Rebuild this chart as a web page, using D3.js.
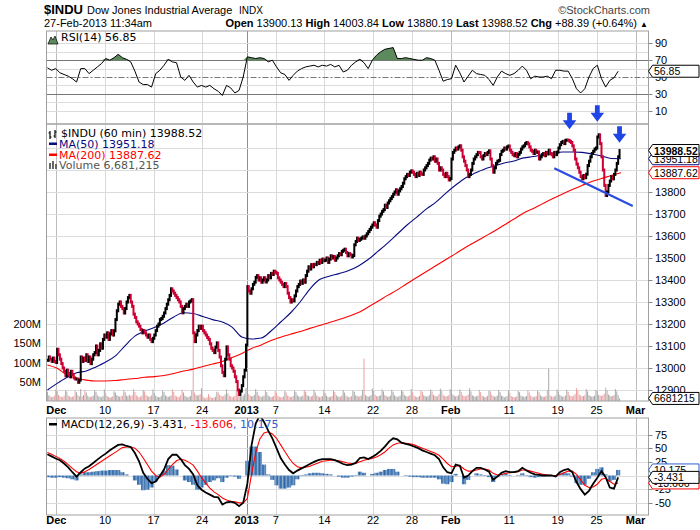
<!DOCTYPE html>
<html>
<head>
<meta charset="utf-8">
<script src="https://cdn.jsdelivr.net/npm/d3@7"></script>
<style>
  body { margin: 0; background: #fff; }
  text { font-family: "Liberation Sans", Arial, sans-serif; font-size: 11px; }
  .lg { font-family: "DejaVu Sans", Verdana, sans-serif; font-size: 11px; }
  .tg { font-size: 10.5px; }
</style>
</head>
<body>
<div id="chart"></div>
<script>
// hourly closes, Nov 30 2012 .. Feb 27 2013, one row per trading day (Dec 24 half day, Feb 27 partial)
const closes = [
  13035, 13050, 13040, 13030, 13045, 13030, 13025,
  13085, 13060, 13040, 13020, 13000, 12985, 12965,
  12990, 12975, 12960, 12985, 12970, 12955, 12950,
  12950, 12935, 12945, 13050, 13030, 13045, 13035,
  13060, 13030, 13050, 13020, 13040, 13060, 13070,
  13100, 13060, 13080, 13110, 13090, 13130, 13150,
  13140, 13160, 13130, 13155, 13170, 13150, 13169,
  13220, 13260, 13290, 13300, 13280, 13270, 13250,
  13270, 13300, 13320, 13330, 13300, 13280, 13245,
  13230, 13210, 13200, 13190, 13175, 13160, 13170,
  13160, 13150, 13140, 13150, 13130, 13120, 13135,
  13150, 13170, 13190, 13200, 13220, 13225, 13235,
  13250, 13270, 13290, 13310, 13330, 13360, 13350,
  13340, 13330, 13320, 13310, 13300, 13280, 13251,
  13270, 13280, 13290, 13280, 13300, 13305, 13311,
  13160, 13120, 13150, 13170, 13190, 13180, 13190,
  13170, 13160, 13150, 13139,
  13130, 13110, 13090, 13080, 13070, 13095, 13114,
  13080, 13050, 13010, 12980, 12965, 13040, 13096,
  13060, 13040, 13010, 13000, 12985, 12960, 12938,
  12900, 12880, 12895, 12920, 12960, 12990, 13104,
  13370, 13350, 13340, 13360, 13380, 13390, 13412,
  13420, 13400, 13410, 13390, 13400, 13410, 13391,
  13400, 13420, 13410, 13430, 13425, 13440, 13435,
  13430, 13410, 13400, 13390, 13380, 13370, 13384,
  13370, 13340, 13320, 13300, 13310, 13305, 13328,
  13350, 13370, 13380, 13395, 13385, 13400, 13390,
  13420, 13440, 13460, 13450, 13470, 13460, 13471,
  13470, 13480, 13475, 13490, 13480, 13495, 13488,
  13490, 13500, 13480, 13495, 13510, 13500, 13507,
  13490, 13500, 13510, 13520, 13515, 13530, 13535,
  13540, 13525, 13510, 13520, 13515, 13505, 13511,
  13560, 13575, 13590, 13580, 13585, 13590, 13596,
  13590, 13600, 13610, 13620, 13630, 13640, 13650,
  13660, 13650, 13640, 13670, 13690, 13700, 13712,
  13720, 13740, 13730, 13750, 13760, 13770, 13779,
  13790, 13800, 13810, 13790, 13805, 13815, 13825,
  13840, 13860, 13870, 13880, 13875, 13890, 13896,
  13890, 13880, 13870, 13885, 13875, 13890, 13882,
  13880, 13900, 13910, 13920, 13930, 13945, 13954,
  13950, 13960, 13940, 13950, 13930, 13900, 13910,
  13900, 13880, 13870, 13885, 13870, 13855, 13861,
  13950, 13980, 13990, 14000, 13995, 14005, 14010,
  13990, 13960, 13940, 13920, 13900, 13870, 13880,
  13900, 13930, 13950, 13960, 13970, 13980, 13979,
  13960, 13950, 13965, 13975, 13970, 13980, 13987,
  13950, 13920, 13890, 13910, 13930, 13940, 13944,
  13970, 13985, 13990, 14000, 13995, 14005, 14009,
  13990, 13980, 13970, 13965, 13975, 13960, 13971,
  13980, 13995, 14005, 14010, 14020, 14025, 14019,
  14005, 13990, 13985, 13975, 13990, 13980, 13982,
  13950, 13960, 13970, 13975, 13965, 13980, 13973,
  13990, 13975, 13970, 13960, 13980, 13970, 13981,
  14000, 14015, 14025, 14030, 14020, 14035, 14036,
  14035, 14030, 14025, 14010, 13990, 13950, 13927,
  13910, 13890, 13870, 13860, 13875, 13865, 13881,
  13920, 13940, 13960, 13975, 13985, 13995, 14000,
  14050, 14060, 14020, 13960, 13900, 13830, 13784,
  13800, 13830, 13850, 13870, 13860, 13880, 13900,
  13930, 13960, 13988.52
];

// hourly volume, millions
const volumes = [
  24,15,12,10,11,14,30,  26,16,13,11,10,14,28,  25,14,12,10,11,13,27,  23,15,12,31,12,15,29,
  22,14,11,10,12,14,28,  24,15,12,11,10,13,30,  20,13,10,9,10,12,25,   22,15,13,11,12,14,29,
  23,14,12,16,13,15,31,  24,15,12,10,11,14,28,  25,16,13,11,12,15,30,  21,14,11,10,10,13,27,
  23,15,12,11,12,14,30,  24,14,12,10,11,15,29,  22,14,11,10,11,13,28,  200,22,16,14,15,18,33,
  12,8,7,10,
  18,12,9,8,9,11,24,     22,16,14,12,13,17,30,  20,14,12,10,11,14,26,  24,16,13,12,14,18,34,
  30,18,14,12,13,16,31,  24,15,12,11,12,14,28,  23,14,12,10,11,13,27,  21,13,11,10,10,12,26,
  22,14,12,10,11,13,27,  23,15,12,11,12,14,28,  24,15,13,11,12,14,29,  22,14,12,10,11,13,30,
  21,14,11,10,11,13,27,  23,15,12,11,11,14,28,  22,14,12,10,11,13,27,  24,15,13,11,12,14,29,
  110,16,13,11,12,15,32, 26,16,13,12,13,15,30,  25,15,13,11,12,14,29,  24,15,12,11,12,14,28,
  25,16,13,12,12,15,31,  23,14,12,10,11,13,28,  24,15,13,11,12,15,30,  25,16,14,12,13,18,32,
  26,16,13,12,13,15,31,  28,17,14,12,13,15,30,  24,15,13,12,14,17,33,  25,15,13,11,12,14,29,
  23,14,12,10,11,13,27,  25,16,13,11,12,14,29,  23,14,12,10,11,13,28,  21,13,11,10,10,12,26,
  23,14,12,11,11,13,28,  22,14,12,10,11,13,27,  23,15,12,11,11,13,28,  84,15,12,11,12,14,30,
  25,16,13,11,12,14,29,  24,15,13,12,14,18,33,  27,17,14,12,13,15,31,  25,15,13,11,12,14,29,
  26,16,14,13,15,19,35,  28,17,14,12,13,15,31,  25,15,6.68
];

// indicators, one value every 3 bars
const indStep = 3;
const rsiValues = [
  61, 58, 60, 55, 53, 51, 48, 44, 60, 60,
  54, 58, 62, 66, 72, 70, 73, 77, 73, 71,
  68, 57, 44, 41, 41, 38, 54, 58, 64, 71,
  68, 67, 50, 46, 52, 44, 38, 40, 38, 40,
  36, 33, 28, 40, 37, 31, 34, 50, 74, 73,
  72, 73, 72, 68, 70, 62, 55, 53, 46, 52,
  57, 60, 62, 63, 64, 62, 64, 63, 65, 62,
  64, 56, 58, 64, 68, 71, 67, 60, 70, 76,
  80, 83, 84, 85, 72, 72, 73, 72, 71, 70,
  70, 73, 72, 70, 58, 45, 47, 48, 64, 55,
  44, 51, 58, 54, 53, 52, 47, 40, 50, 57,
  54, 52, 54, 58, 63, 58, 48, 51, 50, 50,
  51, 48, 58, 58, 57, 57, 48, 36, 31, 36,
  50, 60, 64, 48, 38, 46, 49, 56.85
];
const macdValues = [
  39, 35, 31, 28, 22, 15, 6, -2, 6, 13,
  17, 23, 29, 35, 40, 46, 51, 56, 57, 54,
  52, 41, 26, 5, -6, -14, -11, -1, 11, 30,
  38, 38, 30, 19, 12, 2, -18, -26, -31, -35,
  -39, -40, -53, -49, -48, -50, -56, -50, -15, 55,
  95, 110, 98, 82, 68, 50, 32, 20, 10, 4,
  9, 13, 17, 21, 25, 28, 30, 30, 30, 28,
  25, 21, 19, 20, 23, 32, 33, 30, 34, 39,
  45, 53, 62, 68, 66, 60, 58, 56, 53, 50,
  46, 43, 40, 37, 30, 15, 6, 4, 20, 18,
  -4, 0, 8, 14, 14, 11, 7, -8, -2, 5,
  8, 6, 6, 8, 14, 9, 5, 2, 1, 0,
  0, 0, -2, 6, 10, 12, 6, -12, -25, -35,
  -28, -15, -4, 8, -3, -22, -24, -3.431
];
const signalValues = [
  42, 39, 35, 31, 26, 20, 13, 7, 4, 7,
  11, 16, 21, 26, 31, 36, 41, 46, 51, 52,
  52, 50, 43, 32, 20, 8, 0, -3, 2, 11,
  20, 27, 30, 28, 24, 19, 8, -4, -14, -23,
  -30, -35, -41, -45, -47, -48, -50, -50, -42, 2,
  42, 67, 78, 80, 76, 68, 56, 44, 32, 22,
  16, 14, 15, 17, 20, 23, 26, 27, 28, 28,
  27, 25, 23, 22, 22, 25, 28, 30, 31, 34,
  38, 43, 50, 56, 59, 60, 59, 58, 56, 53,
  50, 47, 44, 41, 37, 30, 22, 16, 17, 18,
  12, 8, 8, 10, 12, 12, 10, 4, 1, 2,
  4, 5, 6, 7, 10, 10, 8, 6, 4, 2,
  1, 0, 0, 2, 5, 8, 8, 2, -8, -18,
  -22, -21, -16, -7, -5, -11, -16, -13.606
];

// moving averages, one value every 7 bars
const maStep = 7;
const ma50 = [
  12900, 12930, 12957, 12978, 12986, 13005, 13027, 13055, 13102, 13145,
  13168, 13184, 13205, 13232, 13251, 13248, 13234, 13220, 13209, 13186,
  13141, 13132, 13136, 13168, 13209, 13250, 13300, 13359, 13402, 13417,
  13429, 13443, 13464, 13493, 13530, 13568, 13609, 13650, 13686, 13723,
  13755, 13795, 13832, 13864, 13886, 13905, 13918, 13932, 13941, 13955,
  13961, 13970, 13977, 13982, 13982, 13980, 13973, 13964, 13952, 13951.18
];
const ma200 = [
  13014, 12999, 12968, 12953, 12945, 12941, 12941, 12943, 12948, 12952,
  12958, 12961, 12966, 12975, 12986, 12995, 13007, 13018, 13030, 13048,
  13066, 13089, 13105, 13125, 13140, 13153, 13166, 13180, 13193, 13207,
  13220, 13235, 13252, 13277, 13303, 13330, 13355, 13384, 13411, 13439,
  13466, 13493, 13520, 13548, 13573, 13598, 13623, 13650, 13677, 13705,
  13725, 13748, 13770, 13791, 13811, 13830, 13848, 13861, 13875, 13887.62
];

// date axis: bar index of each labelled day
const tickBars = [7, 42, 77, 112, 144, 165, 200, 235, 263, 291, 333, 368, 396, 424];
const tickLabels = ["Dec", "10", "17", "24", "2013", "7", "14", "22", "28", "Feb", "11", "19", "25", "Mar"];
const boldTicks = ["Dec", "2013", "Feb", "Mar"];

// gridline values, and the labels that stay visible beside the value tags
const priceTicks = [12900, 13000, 13100, 13200, 13300, 13400, 13500, 13600, 13700, 13800, 13900, 14000];
const priceLabels = [12900, 13000, 13100, 13200, 13300, 13400, 13500, 13600, 13700, 13800];
const volumeTicks = [50, 100, 150, 200];
const rsiGrid = [10, 20, 30, 40, 50, 60, 70, 80, 90];
const rsiTicks = [10, 30, 50, 70, 90];
const macdTicks = [-50, -25, 0, 25, 50, 75];
const macdLabels = [-50, -25, 25, 50, 75];

// blue annotations (bar index, price)
const arrowBars = [376, 396, 412];
const arrowPrices = [14085, 14119, 14024];
const trendBars = [365, 421.5];
const trendPrices = [13908, 13736];

const svg = d3.select("#chart").append("svg").attr("width", 700).attr("height", 530);

const L = 46.5, R = 648.5;
const rsiTop = 31, rsiBot = 124, mainTop = 124, mainBot = 401, macdTop = 418, macdBot = 515;

const x = d3.scaleLinear().domain([0, 433]).range([46.7, 648]);
const bx = i => x(i + 0.5);
const yRsi = d3.scaleLinear().domain([0, 100]).range([119, 35]);
const yPrice = d3.scaleLinear().domain([12900, 13800]).range([390, 192]);
const yVol = d3.scaleLinear().domain([0, 200]).range([401, 324]);
const yMacd = d3.scaleLinear().domain([0, 75]).range([475.5, 434.5]);

const defs = svg.append("defs");
[["clipRsi", rsiTop, rsiBot], ["clipMain", mainTop, mainBot], ["clipMacd", macdTop, macdBot]].forEach(c => {
  defs.append("clipPath").attr("id", c[0]).append("rect")
    .attr("x", L).attr("y", c[1]).attr("width", R - L).attr("height", c[2] - c[1]);
});
const pat = defs.append("pattern").attr("id", "stripe").attr("patternUnits", "userSpaceOnUse")
  .attr("x", x(0)).attr("y", 0).attr("width", x(1) - x(0)).attr("height", 10);
pat.append("rect").attr("width", x(1) - x(0)).attr("height", 10).attr("fill", "#9dbde2");
pat.append("rect").attr("width", 0.9).attr("height", 10).attr("fill", "#2c64a2");

const crisp = v => Math.round(v) + 0.5;
function gridColor(lbl) {
  if (lbl === "2013") return "#8f8f8f";
  if (boldTicks.includes(lbl)) return "#bdbdbd";
  return "#d9d9d9";
}

//Panel gridlines
function vGrid(top, bot) {
  svg.append("g").selectAll("line").data(tickBars).join("line")
    .attr("x1", d => crisp(x(d))).attr("x2", d => crisp(x(d)))
    .attr("y1", top).attr("y2", bot)
    .attr("stroke", (d, i) => gridColor(tickLabels[i]));
}
function hGrid(vals, scale, color) {
  svg.append("g").selectAll("line").data(vals).join("line")
    .attr("x1", L).attr("x2", R)
    .attr("y1", d => crisp(scale(d))).attr("y2", d => crisp(scale(d)))
    .attr("stroke", color);
}
function rightLabels(ticks, labels, scale) {
  const g = svg.append("g");
  g.selectAll("line").data(ticks).join("line")
    .attr("x1", R).attr("x2", R + 4)
    .attr("y1", d => crisp(scale(d))).attr("y2", d => crisp(scale(d)))
    .attr("stroke", "#888");
  g.selectAll("text").data(labels).join("text")
    .attr("x", 655).attr("y", d => scale(d) + 4)
    .text(d => d);
}
function xLabels(yBase) {
  svg.append("g").selectAll("text").data(tickBars).join("text")
    .attr("x", d => x(d)).attr("y", yBase).attr("text-anchor", "middle")
    .style("font-weight", (d, i) => boldTicks.includes(tickLabels[i]) ? "bold" : "normal")
    .text((d, i) => tickLabels[i]);
}
//Value tag with a small pointer on the left
function tag(y, label, color, bold) {
  const g = svg.append("g");
  g.append("path")
    .attr("d", `M648.5,${y} L652.5,${y - 6} L699,${y - 6} L699,${y + 6} L652.5,${y + 6} Z`)
    .attr("fill", "#fff").attr("stroke", color);
  g.append("text").attr("class", "tg").attr("x", 654).attr("y", y + 4).attr("fill", "#000")
    .style("font-weight", bold ? "bold" : "normal").text(label);
}

//Header
svg.append("text").attr("x", 44).attr("y", 14).style("font-size", "13px").style("font-weight", "bold").text("$INDU");
svg.append("text").attr("x", 87).attr("y", 14).text("Dow Jones Industrial Average");
svg.append("text").attr("x", 239).attr("y", 14).style("font-size", "10px").text("INDX");
svg.append("text").attr("x", 650).attr("y", 14).attr("text-anchor", "end").attr("fill", "#444").text("\u00a9StockCharts.com");
svg.append("text").attr("x", 44).attr("y", 27).text("27-Feb-2013 11:34am");
const hdr = svg.append("text").attr("x", 648).attr("y", 27).attr("text-anchor", "end");
[["Open", " 13900.13 "], ["High", " 14003.84 "], ["Low", " 13880.19 "], ["Last", " 13988.52 "], ["Chg", " +88.39 (+0.64%) "]]
  .forEach(p => {
    hdr.append("tspan").style("font-weight", "bold").text(p[0]);
    hdr.append("tspan").text(p[1]);
  });
hdr.append("tspan").style("font-size", "8px").text("\u25b2");

//RSI panel
vGrid(rsiTop, rsiBot);
hGrid(rsiGrid.filter(d => d !== 30 && d !== 50 && d !== 70), yRsi, "#dcdcdc");
hGrid([30, 70], yRsi, "#777");
svg.append("line").attr("x1", L).attr("x2", R).attr("y1", crisp(yRsi(50))).attr("y2", crisp(yRsi(50)))
  .attr("stroke", "#777").attr("stroke-dasharray", "6,2,2,2");

const rsiPts = rsiValues.map((v, k) => ({b: k * indStep, v}));
const rsiG = svg.append("g").attr("clip-path", "url(#clipRsi)");
rsiG.append("path").datum(rsiPts)
  .attr("d", d3.area().x(d => bx(d.b)).y0(yRsi(70)).y1(d => yRsi(Math.max(70, d.v))))
  .attr("fill", "#5d8a5d");
rsiG.append("path").datum(rsiPts)
  .attr("d", d3.line().x(d => bx(d.b)).y(d => yRsi(d.v)))
  .attr("fill", "none").attr("stroke", "#000").attr("stroke-width", 1);

svg.append("rect").attr("x", L).attr("y", rsiTop).attr("width", R - L).attr("height", rsiBot - rsiTop)
  .attr("fill", "none").attr("stroke", "#a0a0a0");
rightLabels(rsiTicks, rsiTicks, yRsi);
tag(yRsi(56.85), "56.85", "#000", false);
svg.append("path").attr("d", "M48,44 L51,37 L53,40 L55,36 L58,44 Z").attr("fill", "#5d8a5d").attr("stroke", "#000").attr("stroke-width", 0.7);
svg.append("text").attr("class", "lg").attr("x", 61).attr("y", 41).text("RSI(14) 56.85");

//Main panel
vGrid(mainTop, mainBot);
hGrid(priceTicks, yPrice, "#dcdcdc");

const bars = closes.map((c, i) => ({i, c, o: i ? closes[i - 1] : c}));
const mainG = svg.append("g").attr("clip-path", "url(#clipMain)");

mainG.append("g").selectAll("rect").data(volumes).join("rect")
  .attr("x", (d, i) => bx(i) - 0.5).attr("width", 1)
  .attr("y", d => yVol(d)).attr("height", d => mainBot - yVol(d))
  .attr("fill", (d, i) => bars[i].c >= bars[i].o ? "#a8a8a8" : "#e8a2a2");

mainG.append("path").datum(ma200)
  .attr("d", d3.line().x((d, k) => bx(k * maStep)).y(d => yPrice(d)).curve(d3.curveMonotoneX))
  .attr("fill", "none").attr("stroke", "#ff0000").attr("stroke-width", 1.1);
mainG.append("path").datum(ma50)
  .attr("d", d3.line().x((d, k) => bx(k * maStep)).y(d => yPrice(d)).curve(d3.curveMonotoneX))
  .attr("fill", "none").attr("stroke", "#0a0a80").attr("stroke-width", 1.1);

mainG.append("g").selectAll("rect").data(bars).join("rect")
  .attr("x", d => bx(d.i) - 1).attr("width", 2)
  .attr("y", d => yPrice(Math.max(d.o, d.c)) - 1.5)
  .attr("height", d => Math.abs(yPrice(d.o) - yPrice(d.c)) + 3)
  .attr("fill", d => d.c >= d.o ? "#000" : "#cc0033");

svg.append("rect").attr("x", L).attr("y", mainTop).attr("width", R - L).attr("height", mainBot - mainTop)
  .attr("fill", "none").attr("stroke", "#a0a0a0");
rightLabels(priceTicks, priceLabels, yPrice);
svg.append("g").selectAll("text").data(volumeTicks).join("text")
  .attr("x", 41).attr("y", d => yVol(d) + 4).attr("text-anchor", "end").text(d => d + "M");

//Blue annotations
svg.append("line")
  .attr("x1", bx(trendBars[0])).attr("y1", yPrice(trendPrices[0]))
  .attr("x2", bx(trendBars[1])).attr("y2", yPrice(trendPrices[1]))
  .attr("stroke", "#2a4de0").attr("stroke-width", 2.2);
svg.append("g").selectAll("path").data(arrowBars).join("path")
  .attr("d", (d, i) => {
    const tx = bx(d), ty = yPrice(arrowPrices[i]);
    return `M${tx - 2.4},${ty - 16.5} L${tx + 2.4},${ty - 16.5} L${tx + 2.4},${ty - 9} L${tx + 6.8},${ty - 9}
            L${tx},${ty} L${tx - 6.8},${ty - 9} L${tx - 2.4},${ty - 9} Z`;
  })
  .attr("fill", "#1f45e6");

tag(yPrice(13951.18), "13951.18", "#0a0a80", false);
tag(yPrice(13988.52), "13988.52", "#000", true);
tag(yPrice(13887.62), "13887.62", "#ff0000", false);
tag(yVol(6.68), "6681215", "#000", false);

//Main legend
const lg = svg.append("g");
lg.append("path").attr("d", "M50,131 L50,139 M48.5,133 L50,133 M50,137 L51.5,137 M55,130 L55,138 M53.5,136 L55,136 M55,132 L56.5,132")
  .attr("stroke", "#000").attr("stroke-width", 1.2).attr("fill", "none");
lg.append("text").attr("class", "lg").attr("x", 61).attr("y", 137).text("$INDU (60 min) 13988.52");
lg.append("rect").attr("x", 49).attr("y", 142.5).attr("width", 8).attr("height", 2.5).attr("fill", "#0a0a80");
lg.append("text").attr("class", "lg").attr("x", 59).attr("y", 148).attr("fill", "#0a0a80").text("MA(50) 13951.18");
lg.append("rect").attr("x", 49).attr("y", 153.5).attr("width", 8).attr("height", 2.5).attr("fill", "#ff0000");
lg.append("text").attr("class", "lg").attr("x", 59).attr("y", 159).attr("fill", "#ff0000").text("MA(200) 13887.62");
lg.append("path").attr("d", "M49,169 L49,163 L51,163 L51,169 Z M52,169 L52,161 L54,161 L54,169 Z M55,169 L55,164 L57,164 L57,169 Z")
  .attr("fill", "#666");
lg.append("text").attr("class", "lg").attr("x", 59).attr("y", 169).attr("fill", "#555").text("Volume 6,681,215");

xLabels(414);

//MACD panel
vGrid(macdTop, macdBot);
hGrid(macdTicks, yMacd, "#dcdcdc");

const macdPts = macdValues.map((v, k) => ({b: k * indStep, m: v, s: signalValues[k]}));
const macdG = svg.append("g").attr("clip-path", "url(#clipMacd)");
macdG.append("g").selectAll("rect").data(macdPts).join("rect")
  .attr("x", d => x(d.b - 1)).attr("width", x(3) - x(0))
  .attr("y", d => Math.min(yMacd(0), yMacd(d.m - d.s)))
  .attr("height", d => Math.abs(yMacd(d.m - d.s) - yMacd(0)))
  .attr("fill", "url(#stripe)");
macdG.append("path").datum(macdPts)
  .attr("d", d3.line().x(d => bx(d.b)).y(d => yMacd(d.s)))
  .attr("fill", "none").attr("stroke", "#ff0000").attr("stroke-width", 1.1);
macdG.append("path").datum(macdPts)
  .attr("d", d3.line().x(d => bx(d.b)).y(d => yMacd(d.m)))
  .attr("fill", "none").attr("stroke", "#000").attr("stroke-width", 1.8);

svg.append("rect").attr("x", L).attr("y", macdTop).attr("width", R - L).attr("height", macdBot - macdTop)
  .attr("fill", "none").attr("stroke", "#a0a0a0");
rightLabels(macdTicks, macdLabels, yMacd);
tag(yMacd(10.175), "10.175", "#3060d0", false);
tag(yMacd(-13.606), "-13.606", "#ff0000", false);
tag(yMacd(-3.431), "-3.431", "#000", false);

svg.append("rect").attr("x", 49).attr("y", 423).attr("width", 8).attr("height", 2.5).attr("fill", "#000");
const ml = svg.append("text").attr("class", "lg").attr("x", 61).attr("y", 428);
ml.append("tspan").text("MACD(12,26,9) -3.431");
ml.append("tspan").attr("fill", "#ff0000").text(", -13.606");
ml.append("tspan").attr("fill", "#3060d0").text(", 10.175");

xLabels(524);
</script>
</body>
</html>
